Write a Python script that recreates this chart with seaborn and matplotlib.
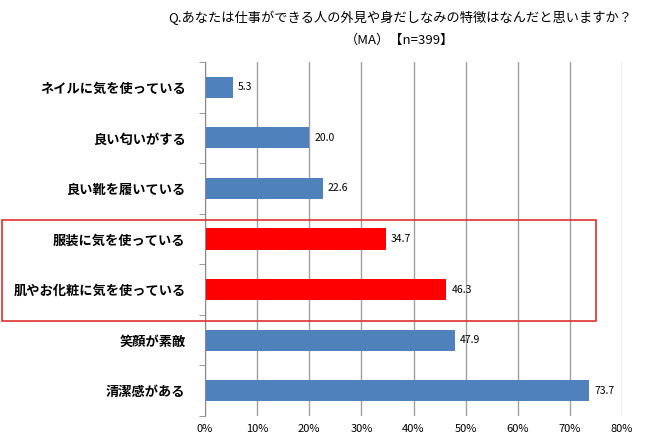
import matplotlib
matplotlib.use("Agg")
import matplotlib.pyplot as plt
import seaborn as sns
import pandas as pd
from matplotlib.patches import Rectangle

categories = ["ネイルに気を使っている", "良い匂いがする", "良い靴を履いている", "服装に気を使っている",
              "肌やお化粧に気を使っている", "笑顔が素敵", "清潔感がある"]
values = [5.3, 20.0, 22.6, 34.7, 46.3, 47.9, 73.7]
highlight = [False, False, False, True, True, False, False]
ticks = [0, 10, 20, 30, 40, 50, 60, 70, 80]

plt.rcParams["font.family"] = "Noto Sans CJK JP"
df = pd.DataFrame({"cat": categories, "val": values})
colors = ["#FF0000" if h else "#4F81BD" for h in highlight]

fig = plt.figure(figsize=(6.5, 4.48), dpi=100)
ax = fig.add_axes([205/650, 32/448, 417/650, 354/448])
sns.barplot(data=df, x="val", y="cat", hue="cat", palette=colors, legend=False, width=0.42, ax=ax, saturation=1)
ax.set_xlim(0, 80)
ax.set_ylim(len(categories)-0.5, -0.5)
ax.set_xticks(ticks)
ax.set_xticklabels([f"{t}%" for t in ticks], fontsize=8)
ax.set_xlabel(""); ax.set_ylabel("")
ax.tick_params(axis="y", length=0, labelsize=9.5, pad=14)
for lab in ax.get_yticklabels():
    lab.set_fontweight("bold")
ax.set_yticks([i + 0.5 for i in range(-1, len(categories))], minor=True)
ax.tick_params(axis="y", which="minor", length=4, color="#888888")
ax.tick_params(axis="x", length=0, pad=6)
ax.grid(axis="x", color="#A0A0A0", linewidth=1)
ax.set_axisbelow(True)
for s in ["top", "right", "bottom"]:
    ax.spines[s].set_visible(False)
ax.spines["left"].set_color("#888888")
for i, v in enumerate(values):
    ax.text(v + 1, i, f"{v:.1f}", va="center", fontsize=7.5)
fig.text(400/650, 1 - 18/448, "Q.あなたは仕事ができる人の外見や身だしなみの特徴はなんだと思いますか？", ha="center", va="center", fontsize=9.5)
fig.text(400/650, 1 - 40/448, "（MA）【n=399】", ha="center", va="center", fontsize=9.5)
fig.patches.append(Rectangle((2/650, 1 - 321/448), 594/650, 101/448, transform=fig.transFigure,
                             fill=False, edgecolor="#E03030", linewidth=1.2))
fig.savefig("out.png", dpi=100)
